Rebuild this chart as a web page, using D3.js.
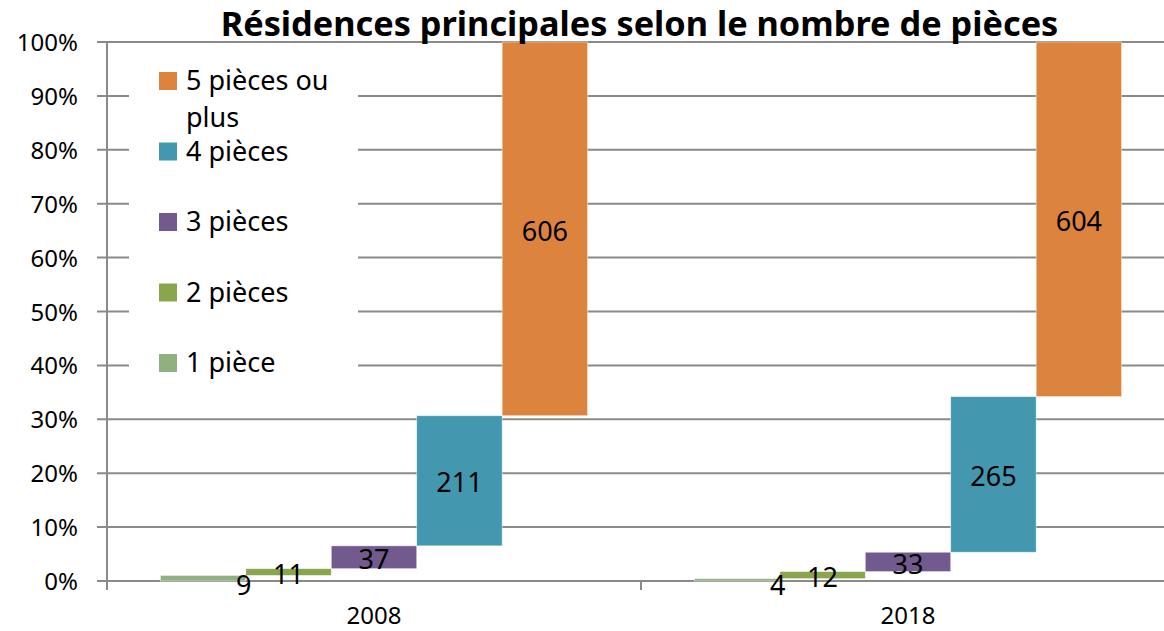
<!DOCTYPE html>
<html lang="fr">
<head>
<meta charset="utf-8">
<script src="https://cdn.jsdelivr.net/npm/d3@7"></script>
<style>
  html, body { margin: 0; padding: 0; background: #fff; }
  svg { display: block; font-family: "Noto Sans", "Open Sans", sans-serif; }
</style>
</head>
<body>
<svg id="chart" width="1164" height="631"></svg>
<script>
// Résidences principales par nombre de pièces (effectifs)
const years = ["2008", "2018"];
const pieces = ["1 pièce", "2 pièces", "3 pièces", "4 pièces", "5 pièces ou plus"];
const counts2008 = [9, 11, 37, 211, 606];
const counts2018 = [4, 12, 33, 265, 604];
const yTickValues = [0, 0.1, 0.2, 0.3, 0.4, 0.5, 0.6, 0.7, 0.8, 0.9, 1];

const pieceColors = ["#8FB180", "#8AA54C", "#725A8F", "#4398B0", "#DC833E"];
const gridColor = "#8a8a8a";

const svg = d3.select("#chart");
const W = 1164, H = 631;

// Plot frame: the category band runs past the right edge of the page
const plot = { left: 107, top: 42, bottom: 581, catWidth: 534 };

const countsByYear = { "2008": counts2008, "2018": counts2018 };

// Floating bars: each piece goes from the running share to the next
const rows = [];
years.forEach(yr => {
  const vals = countsByYear[yr];
  const total = d3.sum(vals);
  let acc = 0;
  vals.forEach((v, i) => {
    rows.push({ year: yr, piece: pieces[i], index: i, value: v, y0: acc / total, y1: (acc + v) / total });
    acc += v;
  });
});

const x0 = d3.scaleBand()
  .domain(years)
  .range([plot.left, plot.left + plot.catWidth * years.length])
  .paddingInner(0).paddingOuter(0);

const x1 = d3.scaleBand()
  .domain(pieces)
  .range([0, x0.bandwidth()])
  .paddingInner(0)
  .paddingOuter(0.625);

const y = d3.scaleLinear().domain([0, 1]).range([plot.bottom, plot.top]);
const color = d3.scaleOrdinal().domain(pieces).range(pieceColors);

// Horizontal gridlines (with the small outside tick left of the axis)
const gridG = svg.append("g");
gridG.selectAll("line")
  .data(yTickValues)
  .join("line")
  .attr("x1", plot.left - 10)
  .attr("x2", W)
  .attr("y1", d => y(d))
  .attr("y2", d => y(d))
  .attr("stroke", gridColor)
  .attr("stroke-width", 2);

// Y tick labels
const yAxis = d3.axisLeft(y).tickValues(yTickValues).tickFormat(d3.format(".0%")).tickSize(0).tickPadding(0);
const yAxisG = svg.append("g").attr("transform", `translate(78,0)`).call(yAxis);
yAxisG.select(".domain").remove();
yAxisG.selectAll("text")
  .attr("font-size", 24)
  .attr("font-family", "'Noto Sans', sans-serif")
  .attr("fill", "#000")
  .attr("dy", null)
  .attr("y", 8.5);

// Vertical axis line
svg.append("line")
  .attr("x1", plot.left).attr("x2", plot.left)
  .attr("y1", plot.top).attr("y2", plot.bottom + 9)
  .attr("stroke", gridColor).attr("stroke-width", 2);

// Category separator ticks
const catBounds = years.map(yr => x0(yr) + x0.bandwidth());
svg.append("g").selectAll("line")
  .data(catBounds)
  .join("line")
  .attr("x1", d => d).attr("x2", d => d)
  .attr("y1", plot.bottom).attr("y2", plot.bottom + 9)
  .attr("stroke", gridColor).attr("stroke-width", 2);

// Category labels
svg.append("g").selectAll("text")
  .data(years)
  .join("text")
  .attr("x", d => x0(d) + x0.bandwidth() / 2)
  .attr("y", 624)
  .attr("text-anchor", "middle")
  .attr("font-size", 24)
  .text(d => d);

// Legend (white box above the gridlines)
const legend = svg.append("g");
legend.append("rect")
  .attr("x", 129).attr("y", 58)
  .attr("width", 229).attr("height", 328)
  .attr("fill", "#fff");

const legendItems = pieces.slice().reverse();
const legendRowH = 70.5, legendFirstBaseline = 90, legendMaxW = 165;
legendItems.forEach((name, i) => {
  const base = legendFirstBaseline + i * legendRowH;
  const g = legend.append("g");
  g.append("rect")
    .attr("x", 159).attr("y", base - 18)
    .attr("width", 18).attr("height", 18)
    .attr("fill", color(name));
  const t = g.append("text")
    .attr("x", 186).attr("y", base)
    .attr("font-size", 27);
  // simple word wrap
  const words = name.split(" ");
  let line = [];
  let lineNo = 0;
  let tspan = t.append("tspan").attr("x", 186).attr("y", base);
  words.forEach(w => {
    line.push(w);
    tspan.text(line.join(" "));
    if (tspan.node().getComputedTextLength() > legendMaxW && line.length > 1) {
      line.pop();
      tspan.text(line.join(" "));
      line = [w];
      lineNo += 1;
      tspan = t.append("tspan").attr("x", 186).attr("y", base + lineNo * 37).text(w);
    }
  });
});

// Bars
svg.append("g").selectAll("rect")
  .data(rows)
  .join("rect")
  .attr("x", d => x0(d.year) + x1(d.piece))
  .attr("width", x1.bandwidth())
  .attr("y", d => y(d.y1))
  .attr("height", d => y(d.y0) - y(d.y1))
  .attr("fill", d => color(d.piece))
  .attr("stroke", "rgba(255,255,255,0.6)")
  .attr("stroke-width", 0.75);

// Value labels: centred in the bar; the thin first bar's label sits at its right end, below the baseline
const labelSize = 27;
svg.append("g").selectAll("text")
  .data(rows)
  .join("text")
  .attr("x", d => d.index === 0
    ? x0(d.year) + x1(d.piece) + x1.bandwidth() - 2
    : x0(d.year) + x1(d.piece) + x1.bandwidth() / 2)
  .attr("y", d => d.index === 0
    ? y(0) + 4 + 0.357 * labelSize
    : (y(d.y0) + y(d.y1)) / 2 + 2 + 0.357 * labelSize)
  .attr("text-anchor", "middle")
  .attr("font-size", labelSize)
  .attr("fill", "#000")
  .text(d => d.value);

// Title
svg.append("text")
  .attr("x", 639.5)
  .attr("y", 36)
  .attr("text-anchor", "middle")
  .attr("font-size", 34.3)
  .attr("font-weight", "bold")
  .text("Résidences principales selon le nombre de pièces");
</script>
</body>
</html>
